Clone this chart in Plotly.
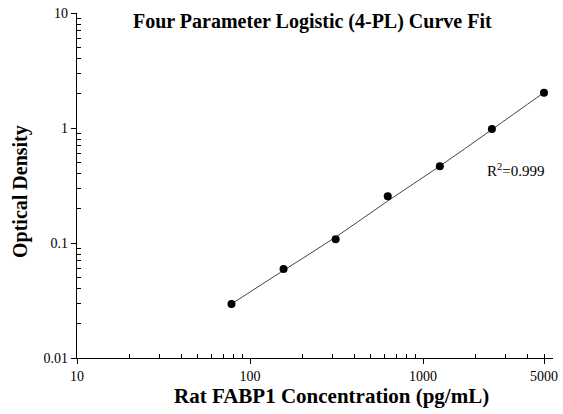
import plotly.graph_objects as go

concentration = [78.125, 156.25, 312.5, 625, 1250, 2500, 5000]
optical_density = [0.0295, 0.0594, 0.1077, 0.2547, 0.4645, 0.98, 2.03]
# fitted curve values at each standard
fit_density = [0.0295, 0.0578, 0.1125, 0.232, 0.466, 0.970, 2.035]

x_tickvals = [10, 100, 1000, 5000]
x_ticktext = ["10", "100", "1000", "5000"]
x_minor = [20, 30, 40, 50, 60, 70, 80, 90, 200, 300, 400, 500, 600, 700, 800, 900,
           2000, 3000, 4000, 5000]
y_tickvals = [0.01, 0.1, 1, 10]
y_ticktext = ["0.01", "0.1", "1", "10"]
y_minor = [m * d for d in [0.01, 0.1, 1] for m in range(2, 10)]

serif = "Liberation Serif, Times New Roman, serif"

fig = go.Figure()
fig.add_trace(go.Scatter(
    x=concentration, y=fit_density, mode="lines",
    line=dict(color="#444444", width=1, shape="spline", smoothing=1.0),
    showlegend=False, hoverinfo="skip",
))
fig.add_trace(go.Scatter(
    x=concentration, y=optical_density, mode="markers",
    marker=dict(color="black", size=8),
    showlegend=False,
))

fig.update_layout(
    width=563, height=414,
    margin=dict(l=77, r=10, t=13, b=56),
    paper_bgcolor="white", plot_bgcolor="white",
    font=dict(family=serif, color="black", size=13),
    annotations=[
        dict(text="<b>Four Parameter Logistic (4-PL) Curve Fit</b>",
             xref="paper", yref="paper", x=(312 - 77) / 476, y=(358 - 22) / 345,
             xanchor="center", yanchor="middle",
             showarrow=False, font=dict(family=serif, size=20, color="black")),
        dict(text="R<sup>2</sup>=0.999", xref="paper", yref="paper",
             x=(546 - 77) / 476, y=(358 - 170) / 345, xanchor="right", yanchor="middle",
             showarrow=False, font=dict(family=serif, size=15, color="black")),
        dict(text="<b>Rat FABP1 Concentration (pg/mL)</b>",
             xref="paper", yref="paper", x=(331 - 77) / 476, y=-(396 - 358) / 345,
             xanchor="center", yanchor="middle",
             showarrow=False, font=dict(family=serif, size=21, color="black")),
        dict(text="<b>Optical Density</b>",
             xref="paper", yref="paper", x=-(77 - 20) / 476, y=(358 - 192) / 345,
             xanchor="center", yanchor="middle", textangle=-90,
             showarrow=False, font=dict(family=serif, size=20, color="black")),
    ],
)

fig.update_xaxes(
    type="log", range=[1, 3.751], automargin=False,
    tickmode="array", tickvals=x_tickvals, ticktext=x_ticktext,
    ticks="outside", ticklen=5, tickwidth=1, tickcolor="black",
    showline=True, linecolor="black", linewidth=1.2, mirror=False,
    showgrid=False, zeroline=False,
    tickfont=dict(family=serif, size=14),
    minor=dict(tickmode="array", tickvals=x_minor, ticks="inside", ticklen=4,
               tickcolor="black", tickwidth=1, showgrid=False),
)
fig.update_yaxes(
    type="log", range=[-2, 1.0], automargin=False,
    tickmode="array", tickvals=y_tickvals, ticktext=y_ticktext,
    ticks="outside", ticklen=5, tickwidth=1, tickcolor="black",
    showline=True, linecolor="black", linewidth=1.2, mirror=False,
    showgrid=False, zeroline=False,
    tickfont=dict(family=serif, size=14),
    minor=dict(tickmode="array", tickvals=y_minor, ticks="inside", ticklen=4,
               tickcolor="black", tickwidth=1, showgrid=False),
)

fig.write_html(
    "out.html",
    config={"displayModeBar": False},
    post_script="document.body.style.margin='0';document.body.style.overflow='hidden';",
)
